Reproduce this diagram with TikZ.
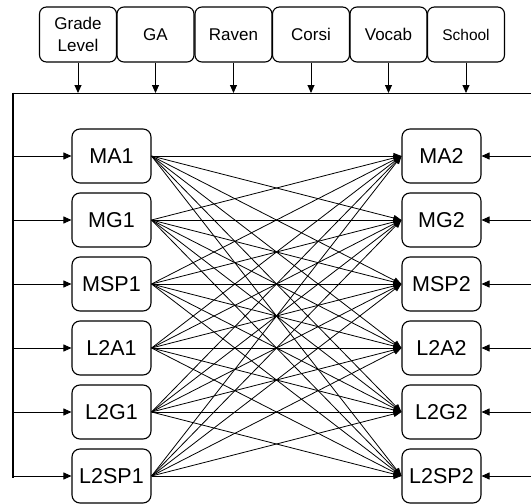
\documentclass[tikz,border=0pt]{standalone}
\usepackage{fontspec}
\setmainfont{Liberation Sans}
\usetikzlibrary{arrows.meta}
\begin{document}
\begin{tikzpicture}[x=1pt,y=-1pt,
  topbox/.style={draw,line width=1.1pt,rounded corners=7pt,minimum width=77pt,minimum height=55pt,inner sep=0pt,align=center,font=\fontsize{17}{22}\selectfont},
  varbox/.style={draw,line width=1.1pt,rounded corners=8pt,minimum width=79pt,minimum height=54pt,inner sep=0pt,font=\fontsize{21.5}{24}\selectfont},
  arr/.style={line width=0.9pt,-{Triangle[length=8pt,width=7pt]}},
  link/.style={line width=0.8pt,-{Triangle[length=8pt,width=6pt]}}]
\useasboundingbox (0,0) rectangle (531,504);
% top boxes
\node[topbox] (t1) at (78,34.5) {Grade\\Level};
\node[topbox] (t2) at (155.5,34.5) {GA};
\node[topbox] (t3) at (233.5,34.5) {Raven};
\node[topbox] (t4) at (311,34.5) {Corsi};
\node[topbox] (t5) at (388.5,34.5) {Vocab};
\node[topbox,font=\fontsize{15.5}{18}\selectfont] (t6) at (466,34.5) {School};
% bus lines
\coordinate (hl) at (12.7,93);
\coordinate (hr) at (531,93);
\coordinate (vb) at (12.7,478);
\draw[line width=0.9pt] (hl) -- (hr);
\draw[line width=2pt] (12.7,92.5) -- (vb);
\foreach \i in {1,...,6} {
  \coordinate (b\i) at (t\i.south |- hl);
  \draw[arr] (t\i.south) -- (b\i);
}
% variable nodes
\foreach \n/\y in {MA/156,MG/220,MSP/284,L2A/348,L2G/412,L2SP/476} {
  \node[varbox] (\n1) at (111.5,\y) {\n1};
  \node[varbox] (\n2) at (441.5,\y) {\n2};
  \coordinate (l\n) at (14,\y);
  \coordinate (r\n) at (531,\y);
  \draw[arr] (l\n) -- (\n1.west);
  \draw[arr] (r\n) -- (\n2.east);
}
% cross links
\foreach \a in {MA,MG,MSP,L2A,L2G,L2SP} {
  \foreach \b in {MA,MG,MSP,L2A,L2G,L2SP} {
    \draw[link] (\a1.east) -- (\b2.west);
  }
}
\end{tikzpicture}
\end{document}
